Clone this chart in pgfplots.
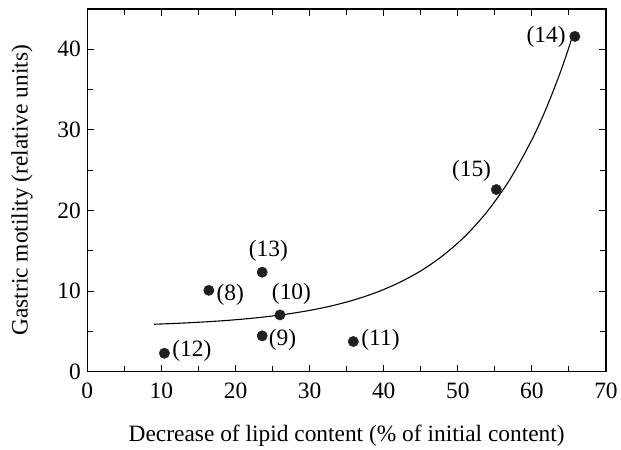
\documentclass[border=0pt]{standalone}
\usepackage{pgfplots}
\usepackage{pgfplotstable}
\pgfplotsset{compat=1.18}
\usepackage{fontspec}
\setmainfont{Liberation Serif}

% samples: position, label offset (bp) and label text
\pgfplotstableread{
x     y      dx     dy    lab
10.4  2.3    27.5   2.6   (12)
16.4  10.1   21.5   -4.3  (8)
23.6  4.45   20.3   -4.0  (9)
23.6  12.35  6.2    21.6  (13)
26.0  7.05   11.5   21.0  (10)
35.9  3.75   27.2   1.7   (11)
55.2  22.6   -24.8  18.6  (15)
65.8  41.6   -28.8  0.0   (14)
}\samples

\begin{document}
\begin{tikzpicture}
\begin{axis}[
  scale only axis,
  width=519bp, height=363bp,
  xmin=0, xmax=70, ymin=0, ymax=45,
  xtick={0,10,...,70}, ytick={0,10,...,40},
  minor tick num=1,
  tick align=inside,
  major tick length=7bp, minor tick length=6bp,
  every tick/.style={black, line width=1.1pt},
  axis line style={line width=1.2pt},
  /pgf/number format/assume math mode=true,
  tick label style={font=\fontsize{23.5}{27}\selectfont},
  xticklabel style={yshift=-8bp},
  yticklabel style={xshift=-3bp},
  label style={font=\fontsize{23.5}{27}\selectfont},
  xlabel={Decrease of lipid content (\% of initial content)},
  ylabel={Gastric motility (relative units)},
  xlabel style={yshift=-19bp},
  ylabel style={yshift=18bp},
  clip=false,
]
% fitted trend
\addplot[smooth, line width=1.1pt, black] coordinates {
  (9,5.89) (12,6.00) (15,6.14) (18,6.31) (21,6.53) (24,6.81) (27,7.16)
  (30,7.61) (33,8.18) (36,8.91) (39,9.84) (42,11.02) (45,12.51)
  (48,14.42) (51,16.83) (54,19.91) (57,23.81) (60,28.78) (62,32.82)
  (64,37.56) (65.6,41.94)
};
% labelled samples
\addplot[only marks, mark=*, mark size=5.2bp, fill=black!88, draw=black!88,
  visualization depends on={\thisrow{dx} \as \dx},
  visualization depends on={\thisrow{dy} \as \dy},
  point meta=explicit symbolic, nodes near coords,
  every node near coord/.append style={anchor=center, inner sep=0pt,
    xshift={\dx*1bp}, yshift={\dy*1bp}, black,
    font=\fontsize{23.5}{27}\selectfont}]
  table[x=x, y=y, meta=lab] {\samples};
\end{axis}
% white margin above the frame and left of the axis title
\path ([yshift=9bp]current axis.north);
\path ([xshift=-8bp]current bounding box.west);
\end{tikzpicture}
\end{document}
